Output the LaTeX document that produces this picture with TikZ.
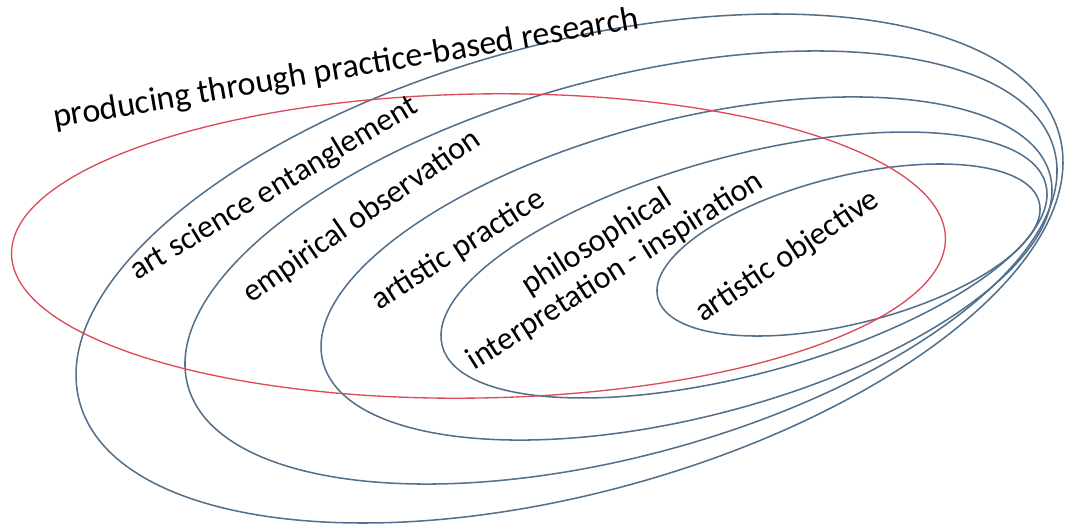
\documentclass[tikz,border=0pt]{standalone}
\usepackage{fontspec}
\setmainfont{Carlito}
\definecolor{ringblue}{HTML}{52708C}
\definecolor{ringred}{HTML}{DD4A5A}
\begin{document}
\begin{tikzpicture}[x=0.75pt,y=-0.75pt,
  ring/.style={draw=ringblue,line width=1.15pt},
  redring/.style={draw=ringred,line width=1pt},
  lbl/.style={font=\fontsize{24}{25.5}\selectfont,inner sep=0pt,text=black},
  biglbl/.style={lbl,font=\fontsize{25.5}{27}\selectfont}]
\useasboundingbox (0,0) rectangle (1066,525);
% nested rings, outermost first
\draw[ring,rotate around={15.25:(569.5,268.5)}] (569.5,268.5) ellipse [x radius=507.8,y radius=224.5];
\draw[ring,rotate around={15.25:(621,267.5)}] (621,267.5) ellipse [x radius=449,y radius=188.1];
\draw[ring,rotate around={14.4:(686.5,268.5)}] (686.5,268.5) ellipse [x radius=375.4,y radius=148.6];
\draw[ring,rotate around={15.05:(744,265)}] (744,265) ellipse [x radius=312.4,y radius=109.1];
\draw[ring,rotate around={14.08:(848.5,250)}] (848.5,250) ellipse [x radius=196.6,y radius=73.7];
% the red overlapping ring
\draw[redring,rotate around={1:(478.5,246)}] (478.5,246) ellipse [x radius=467,y radius=152];
% labels
\node[biglbl,anchor=base west,rotate=9.7] (t0) at (55,128) {producing through practice-based research};
\node[lbl,anchor=base west,rotate=31] (t1) at (137,281) {art science entanglement};
\node[lbl,anchor=base west,rotate=34.7] (t2) at (251,304) {empirical observation};
\node[lbl,anchor=base west,rotate=32.6] (t3) at (379,311) {artistic practice};
\node[lbl,align=center,rotate=32.5] (t4) at (606,257) {philosophical\\interpretation - inspiration};
\node[lbl,anchor=base west,rotate=33.7] (t5) at (703,323) {artistic objective};
\end{tikzpicture}
\end{document}
